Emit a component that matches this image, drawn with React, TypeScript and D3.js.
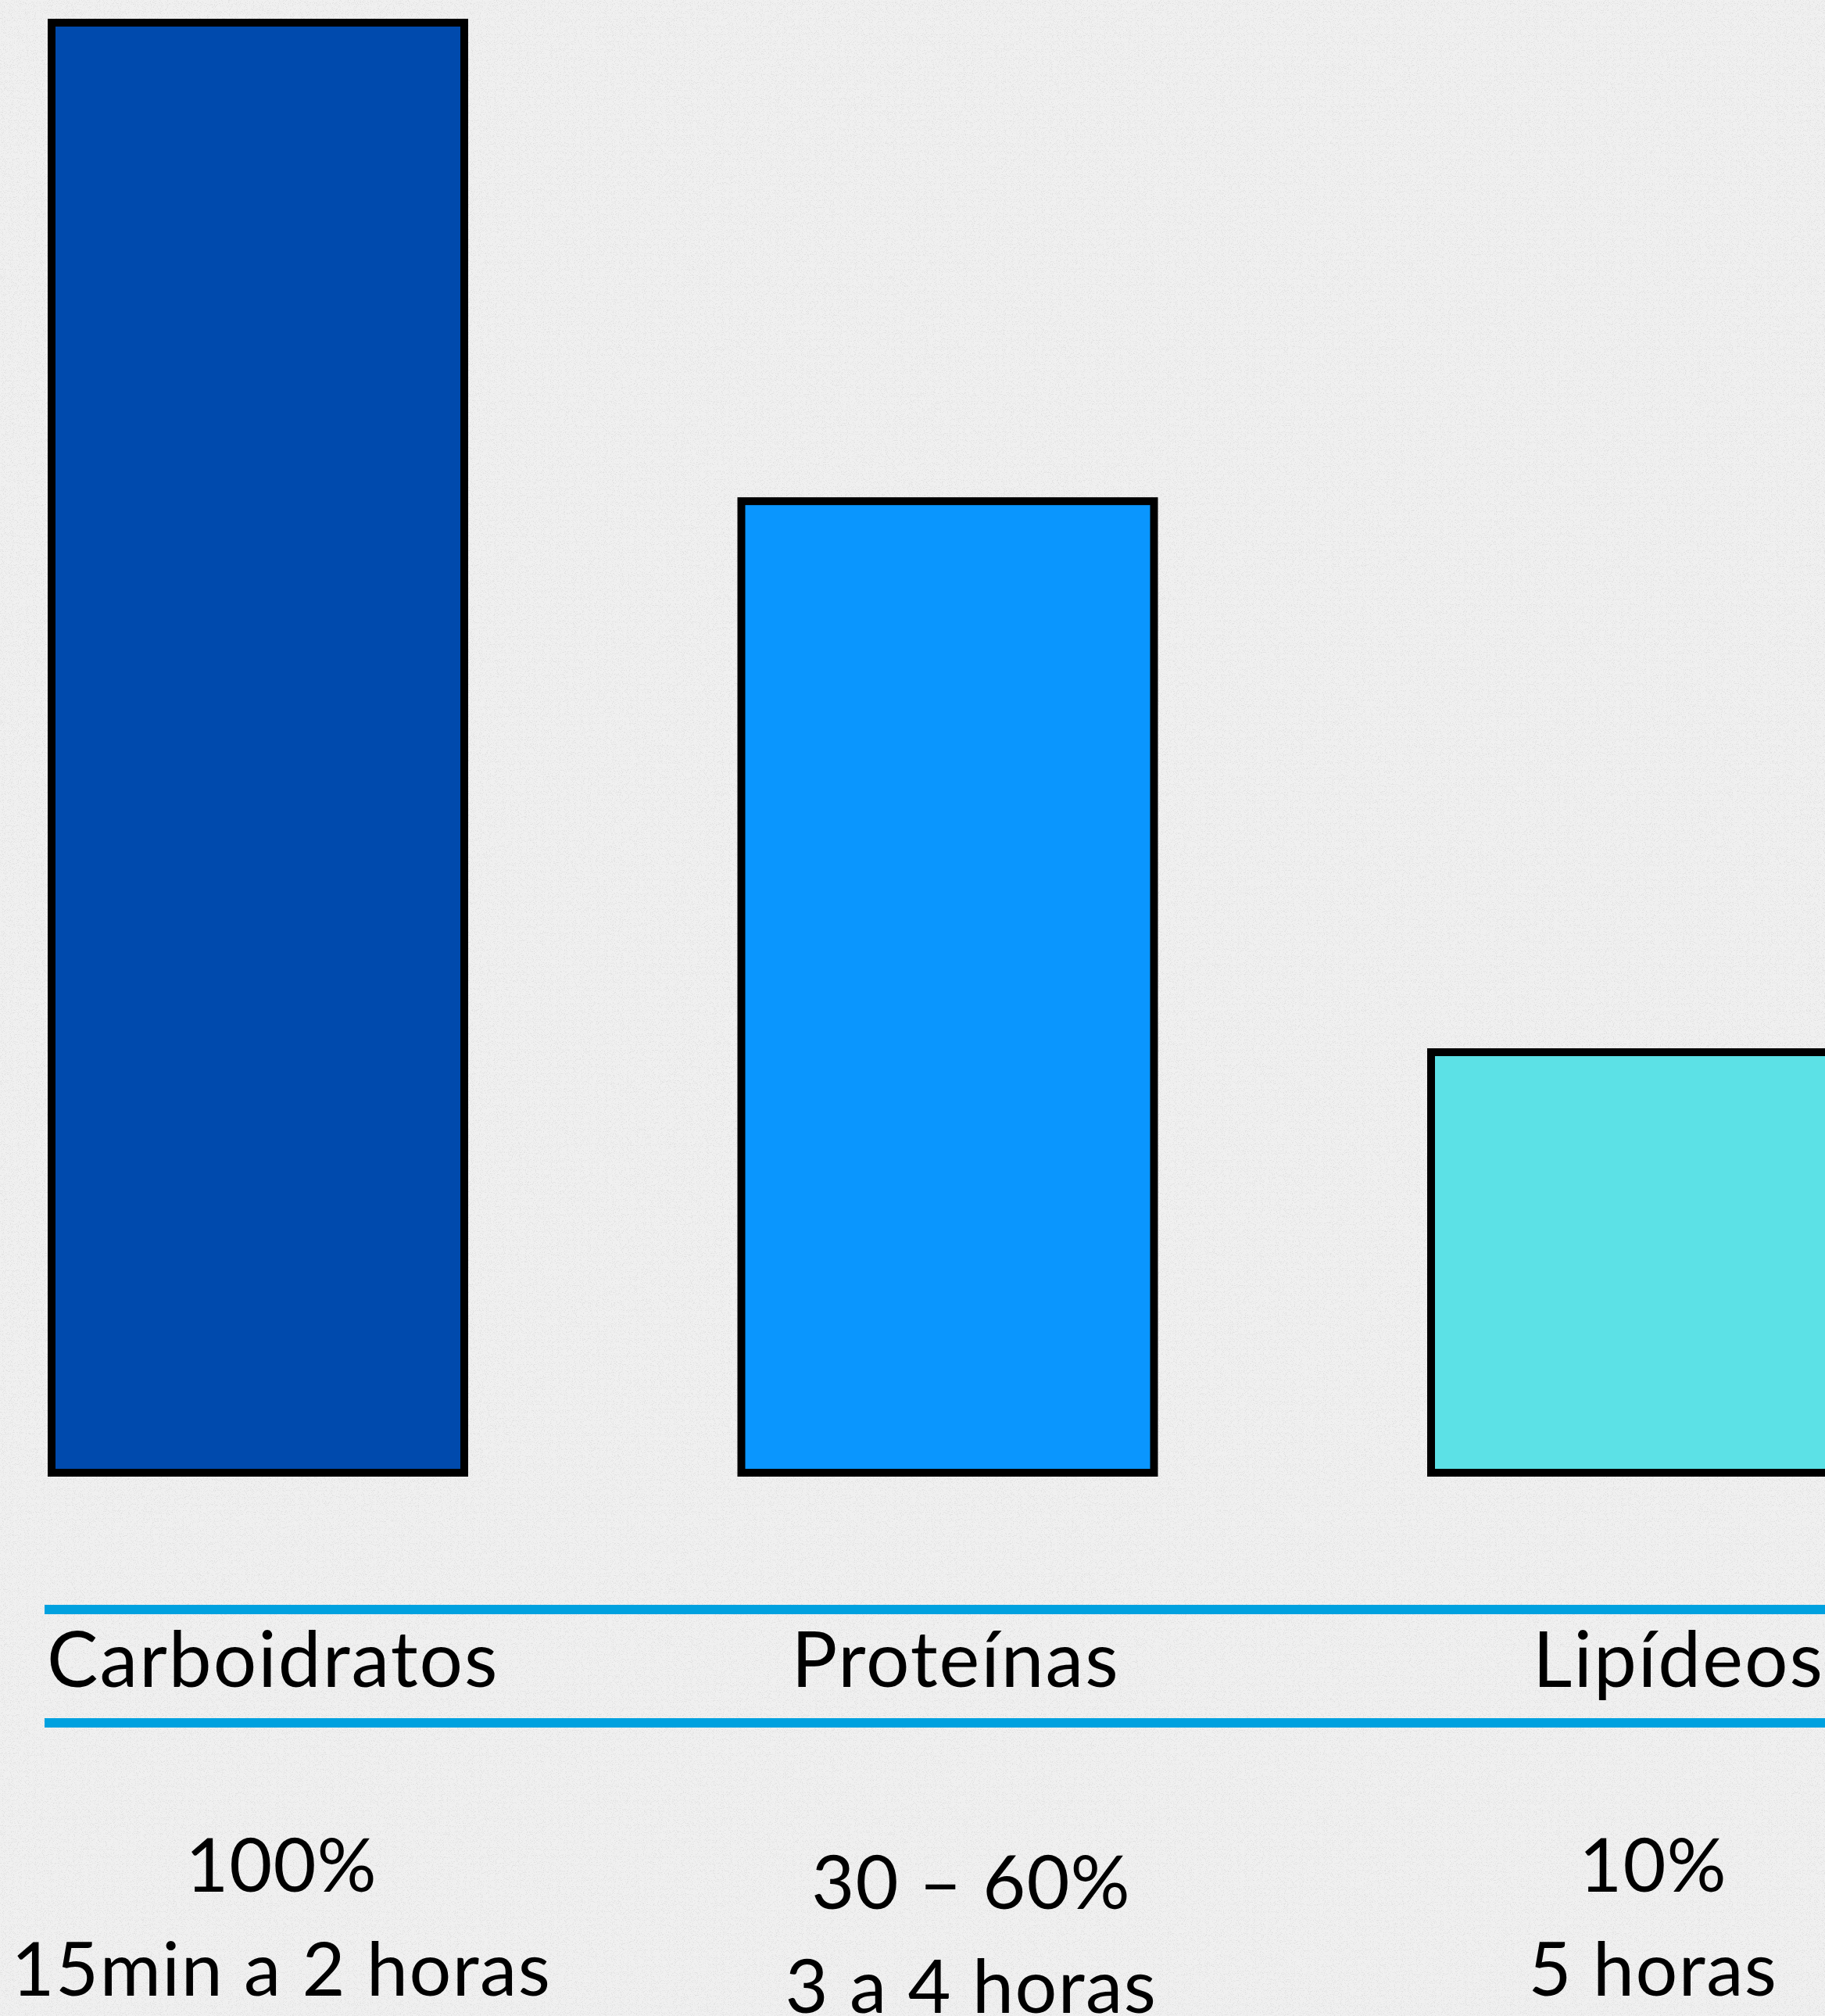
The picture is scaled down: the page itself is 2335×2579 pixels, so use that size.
import { useEffect, useRef } from "react";
import * as d3 from "d3";

const categories = ["Carboidratos", "Proteínas", "Lipídeos"];
const values = [100, 67, 29];
const percentLabels = ["100%", "30 – 60%", "10%"];
const durationLabels = ["15min a 2 horas", "3 a 4 horas", "5 horas"];
const barColors = ["#004aad", "#0a96fe", "#5ce1e6"];

const W = 2335;
const H = 2579;

export default function App() {
  const svgRef = useRef<SVGSVGElement>(null);

  useEffect(() => {
    document.body.style.margin = "0";
    const svg = d3.select(svgRef.current);
    svg.selectAll("*").remove(); // Clear previous content

    const font = "Lato, 'Noto Sans', sans-serif";

    // background + sparse speckle texture
    const defs = svg.append("defs");
    const f = defs.append("filter").attr("id", "speckle").attr("x", 0).attr("y", 0).attr("width", 1).attr("height", 1);
    f.append("feTurbulence")
      .attr("type", "fractalNoise")
      .attr("baseFrequency", 0.9)
      .attr("numOctaves", 2)
      .attr("seed", 7)
      .attr("result", "n");
    f.append("feColorMatrix")
      .attr("type", "matrix")
      .attr("values", "0 0 0 0 0.7  0 0 0 0 0.7  0 0 0 0 0.7  9 0 0 0 -5.0");

    svg.append("rect").attr("width", W).attr("height", H).attr("fill", "#f0f0f0");
    svg.append("rect").attr("width", W).attr("height", H).attr("filter", "url(#speckle)").attr("opacity", 0.6);

    const x = d3
      .scaleBand()
      .domain(categories)
      .range([66, 2359])
      .paddingInner(0.4017)
      .paddingOuter(0);

    const y = d3.scaleLinear().domain([0, 100]).range([1884, 29]);

    const data = categories.map((c, i) => ({ name: c, value: values[i], color: barColors[i] }));

    svg
      .selectAll(".bar")
      .data(data)
      .enter()
      .append("rect")
      .attr("class", "bar")
      .attr("x", (d) => x(d.name) || 0)
      .attr("y", (d) => y(d.value))
      .attr("width", x.bandwidth())
      .attr("height", (d) => y(0) - y(d.value))
      .attr("fill", (d) => d.color)
      .attr("stroke", "#000")
      .attr("stroke-width", 10);

    // the two blue rules around the category names
    const lineLeft = 57;
    [2059, 2204].forEach((ly) => {
      svg
        .append("line")
        .attr("x1", lineLeft)
        .attr("x2", W)
        .attr("y1", ly)
        .attr("y2", ly)
        .attr("stroke", "#00a1df")
        .attr("stroke-width", 12);
    });

    const center = (name: string) => (x(name) || 0) + x.bandwidth() / 2;

    // category names
    svg
      .selectAll(".cat")
      .data(categories)
      .enter()
      .append("text")
      .attr("class", "cat")
      .attr("x", (d, i) => (i === 0 ? lineLeft + 3 : i === categories.length - 1 ? W - 1 : center(d) + 10))
      .attr("y", 2158)
      .attr("text-anchor", (d, i) => (i === 0 ? "start" : i === categories.length - 1 ? "end" : "middle"))
      .attr("font-family", font)
      .attr("font-size", 98)
      .attr("letter-spacing", 2)
      .attr("fill", "#000")
      .text((d) => d);

    // percentages and durations under each category
    const shiftY = (i: number) => (i === 1 ? 22 : 0);
    const shiftX = (i: number) => (i === 2 ? 20 : 30);

    svg
      .selectAll(".pct")
      .data(percentLabels)
      .enter()
      .append("text")
      .attr("class", "pct")
      .attr("x", (d, i) => center(categories[i]) + shiftX(i))
      .attr("y", (d, i) => 2420 + shiftY(i))
      .attr("text-anchor", "middle")
      .attr("font-family", font)
      .attr("font-size", 95)
      .attr("letter-spacing", 1)
      .attr("fill", "#000")
      .text((d) => d);

    svg
      .selectAll(".dur")
      .data(durationLabels)
      .enter()
      .append("text")
      .attr("class", "dur")
      .attr("x", (d, i) => center(categories[i]) + shiftX(i))
      .attr("y", (d, i) => 2553 + shiftY(i))
      .attr("text-anchor", "middle")
      .attr("font-family", font)
      .attr("font-size", 95)
      .attr("letter-spacing", 1.5)
      .attr("fill", "#000")
      .text((d) => d);
  }, []);

  return <svg ref={svgRef} width={W} height={H} style={{ display: "block" }} />;
}
